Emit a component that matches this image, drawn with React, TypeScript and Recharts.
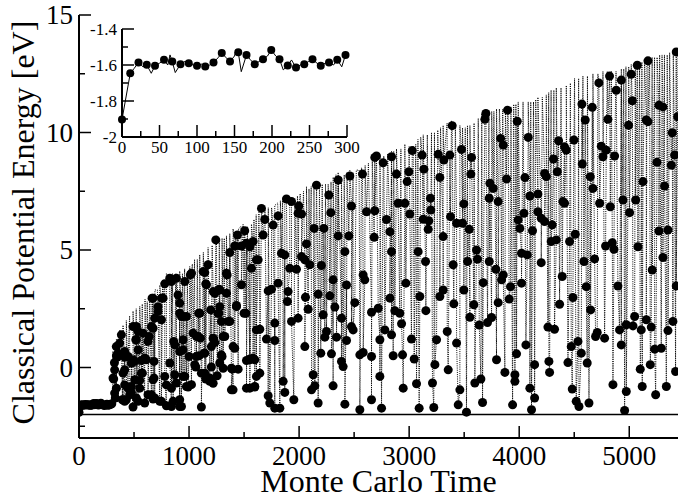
import React from "react";
import {
  ComposedChart,
  Line,
  Scatter,
  XAxis,
  YAxis,
  ReferenceLine,
  Label,
} from "recharts";

const FONT = '"Liberation Serif", "Times New Roman", Times, serif';

// first 300 MC steps (inset, also the flat start of the main plot)
const insetMarkTime = [
  0, 11, 22, 33, 44, 56, 67, 78, 89, 100, 111, 122, 133, 144, 155, 166, 177,
  188, 199, 210, 221, 232, 243, 254, 265, 276, 287, 298,
];
const insetMarkEnergy = [
  -1.903, -1.646, -1.586, -1.599, -1.604, -1.571, -1.581, -1.596, -1.59,
  -1.604, -1.609, -1.586, -1.534, -1.581, -1.529, -1.544, -1.596, -1.568,
  -1.516, -1.568, -1.603, -1.614, -1.596, -1.568, -1.604, -1.586, -1.571,
  -1.544,
];
const insetTraceTime = [
  0, 11, 16, 22, 28, 33, 39, 44, 50, 56, 61, 64, 67, 71, 78, 84, 89, 95, 100,
  106, 111, 117, 122, 128, 133, 139, 144, 150, 152, 155, 159, 166, 171, 177,
  183, 188, 194, 199, 205, 210, 215, 221, 226, 232, 238, 243, 249, 254, 260,
  265, 271, 276, 282, 287, 293, 298,
];
const insetTraceEnergy = [
  -1.903, -1.646, -1.62, -1.586, -1.61, -1.599, -1.646, -1.604, -1.59, -1.571,
  -1.6, -1.544, -1.581, -1.642, -1.596, -1.58, -1.59, -1.6, -1.604, -1.595,
  -1.609, -1.6, -1.586, -1.56, -1.534, -1.56, -1.581, -1.55, -1.516, -1.529,
  -1.637, -1.544, -1.57, -1.596, -1.58, -1.568, -1.55, -1.516, -1.55, -1.568,
  -1.627, -1.603, -1.572, -1.614, -1.6, -1.596, -1.58, -1.568, -1.59, -1.604,
  -1.59, -1.586, -1.6, -1.571, -1.61, -1.544,
];

// main plot markers, [time, energy]
const markersEarly: [number, number][] = [
  [1506, 5.82], [1440, 5.64], [1415, 5.17], [1476, 5.17], [1522, 5.29], [1243, 5.43],
  [1370, 4.89], [1173, 4.37], [1143, 4.04], [1012, 3.94], [961, 3.66], [825, 3.8],
  [779, 3.56], [664, 2.95], [749, 2.95], [900, 3.09], [719, 2.38], [749, 2.03],
  [915, 2.74], [946, 2.17], [976, 2.17], [1088, 2.31], [1152, 3.56], [1234, 3.16],
  [1273, 3.33], [1340, 3.16], [1346, 3.94], [1476, 3.52], [1431, 2.64], [1500, 2.31],
  [1370, 1.96], [1270, 2.31], [1294, 1.96], [1197, 2.45], [522, 1.74], [582, 1.46],
  [637, 1.32], [673, 1.67], [385, 1.39], [370, 1.04], [340, 0.5], [516, 1.18],
  [415, 0.44], [506, 0.26], [567, 0.3], [612, 0.33], [861, 1.11], [915, 0.68],
  [1037, 1.46], [1067, 1.32], [1103, 1.25], [1234, 1.06], [1225, 1.21], [1325, 1.32],
  [1415, 0.82], [1522, 0.3], [1446, -0.07], [1394, -0.07], [1300, 0.47], [1279, 0.19],
  [1203, 0.02], [1137, 0.61], [1091, 0.5], [1000, 0.47], [1061, 0.02], [870, -0.31],
  [825, 0.19], [682, 0.26], [315, -0.49], [415, -0.1], [576, -0.24], [552, -0.55],
  [673, -0.52], [946, -0.38], [1112, -0.24], [1152, -0.49], [1188, -0.59], [1255, -0.35],
  [1400, -0.95], [446, -0.88], [340, -0.88], [476, -1.06], [552, -0.88], [885, -0.66],
  [991, -0.83], [1022, -0.73], [915, -1.37], [794, -1.63], [840, -1.66], [749, -1.44],
  [658, -1.16], [673, -1.34], [491, -1.68], [537, -1.44], [597, -1.51], [394, -1.37],
  [430, -1.37], [1112, -1.68], [322, 0.2], [330, -1.3],
  [324, -0.1], [349, 0.44], [339, 0.89], [355, 0.61], [415, 0.68], [446, 0.47],
  [476, 0.19], [491, 0.33], [521, 1.18], [537, 0.75], [597, 0.4], [627, 1.11],
  [491, 1.74], [537, 1.53], [658, 1.74], [688, 2.1], [673, 2.95], [718, 2.59],
  [764, 2.95], [840, 3.66], [885, 3.8], [915, 2.31], [870, 0.97], [946, 1.18],
  [400, -0.24], [415, -0.74], [476, -0.81], [506, -0.52], [567, -0.24], [682, -0.45],
  [779, -0.38], [794, -0.74], [840, -0.88], [961, -0.38], [324, -1.09], [400, -1.37],
  [461, -1.16], [521, -1.3], [627, -1.16], [688, -1.3], [734, -1.44], [855, -1.44],
  [915, -1.66], [415, -1.44], [309, -0.45],
  [1582, 5.36], [1128, 4.08], [1022, 4.01], [1279, 3.3], [1219, 3.23], [1340, 4.01],
  [1612, 4.58], [1158, 3.52], [1097, 2.31], [931, 2.17], [1279, 2.59], [1264, 2.31],
  [1355, 1.96], [1431, 2.59], [1082, 1.32], [1219, 1.25], [1310, 1.32], [1203, 0.89],
  [1143, 0.61], [1067, 0.47], [946, 0.75], [1294, 0.54], [1400, 0.89], [1385, -0.03],
  [1597, 0.33], [1552, 0.33], [1052, 0.12], [1143, -0.24], [1188, -0.45], [1219, -0.67],
  [1310, -0.03], [976, -0.81], [1385, -0.95], [1522, -0.88], [1597, -0.81], [1612, -0.38],
  [931, -1.66],
];

const markersMid: [number, number][] = [
  [2703, 9.0], [2688, 8.94], [2764, 8.71], [2840, 8.97], [2576, 8.23], [2461, 8.15],
  [2355, 7.98], [2158, 7.76], [2270, 7.34], [1885, 7.17], [1931, 7.06], [1997, 6.87],
  [1658, 6.77], [1809, 6.45], [1688, 6.3], [1764, 6.06], [1991, 6.56], [2022, 6.53],
  [2288, 6.59], [2476, 6.87], [2613, 6.63], [2688, 6.67], [2794, 6.3], [2825, 5.78],
  [2137, 5.92], [2225, 5.92], [2355, 5.6], [2452, 5.6], [2682, 5.54], [1673, 5.64],
  [1552, 5.14], [1628, 4.58], [1840, 4.86], [1870, 4.79], [2067, 5.26], [2022, 4.72],
  [2052, 4.58], [2097, 4.37], [1915, 4.22], [1976, 4.18], [1567, 4.22], [2203, 4.34],
  [2416, 4.93], [2309, 3.73], [2431, 3.51], [2597, 3.73], [2582, 3.94], [2840, 4.93],
  [2825, 2.95], [2870, 2.42], [2719, 2.52], [2658, 2.35], [2506, 2.76], [2325, 2.57],
  [2385, 2.1], [2279, 3.05], [2219, 2.24], [2173, 3.12], [2058, 2.99], [2082, 2.48],
  [1900, 3.23], [1894, 2.81], [1809, 3.59], [1719, 3.26], [1749, 3.33], [1516, 2.31],
  [1612, 1.6], [1643, 1.63], [1703, 1.21], [1779, 1.15], [1779, 1.89], [1931, 1.96],
  [1991, 2.1], [2052, 0.89], [2234, 1.29], [2249, 1.53], [2340, 1.29], [2476, 1.74],
  [2491, 1.6], [2582, 0.64], [2552, 0.54], [2431, 1.15], [2840, 1.39], [2734, 1.18],
  [2779, 1.6], [2855, 0.5], [1552, 0.36], [1582, 0.4], [1643, -0.24], [1552, -0.88],
  [1597, -0.83], [1855, -0.59], [1870, -1.06], [1719, -1.2], [1734, -1.51], [1779, -1.73],
  [1825, -1.73], [1952, -1.37], [2128, -0.31], [2143, -0.78], [2113, -0.95], [2173, -1.51],
  [2197, 0.61], [2294, 0.58], [2309, -0.78], [2400, 0.04], [2385, 0.26], [2416, -1.56],
  [2552, -1.8], [2658, -1.37], [2749, -1.73], [2658, 0.47], [2734, -0.38],
];

const markersLate: [number, number][] = [
  [3697, 10.81], [3688, 10.56], [3894, 10.95], [3982, 10.48], [4082, 9.79], [3831, 9.75],
  [3855, 9.46], [3391, 10.29], [3476, 9.28], [3567, 8.94], [3370, 9.04], [3315, 8.83],
  [3264, 9.07], [3118, 9.04], [3028, 9.23], [2885, 8.23], [2997, 8.33], [2982, 7.91],
  [3134, 8.44], [3561, 8.23], [3279, 8.09], [3885, 8.02], [4052, 8.08], [3734, 7.84],
  [3764, 7.62], [3728, 7.2], [3809, 7.06], [4097, 7.3], [4043, 6.56], [3991, 6.28],
  [4006, 5.92], [4121, 5.82], [3497, 6.96], [3376, 6.42], [3431, 6.14], [3485, 6.14],
  [3546, 5.88], [3309, 5.57], [3128, 6.31], [3179, 6.24], [3173, 5.88], [3197, 6.7],
  [3194, 7.2], [2900, 6.99], [2961, 6.99], [3006, 6.53], [3082, 4.93], [3149, 4.51],
  [3400, 4.37], [3531, 4.51], [3612, 5.0], [3621, 4.61], [3728, 4.51], [3788, 4.18],
  [3855, 3.94], [3840, 3.73], [3921, 3.44], [3909, 2.91], [4021, 4.86], [4073, 4.79],
  [4021, 3.59], [3673, 3.61], [3809, 2.76], [3749, 2.13], [3712, 1.91], [3637, 1.81],
  [3552, 2.14], [3588, 2.67], [3497, 3.3], [3406, 2.71], [3309, 3.3], [3279, 3.02],
  [2970, 3.59], [3097, 3.02], [3152, 2.42], [2915, 2.31], [2931, 1.86], [3021, 1.21],
  [3346, 1.53], [3249, 1.18], [3431, 1.04], [2940, 0.54], [3046, 0.36], [3234, 0.12],
  [3355, -0.1], [3794, 0.33], [3870, -0.21], [3976, 0.58], [4061, 0.96], [2946, -0.88],
  [3067, -0.69], [3212, -0.66], [3461, -0.95], [3597, -0.66], [3652, -0.49], [3961, -0.31],
  [3961, -0.59], [4097, -0.88], [3091, -1.73], [3224, -1.7], [3446, -1.59], [3521, -1.9],
  [3667, -1.49], [3940, -1.59], [4112, -1.8],
];

const markersEnd: [number, number][] = [
  [5427, 13.43], [5170, 13.05], [5073, 12.86], [5018, 12.48], [4928, 12.23], [4821, 12.4],
  [4724, 12.11], [4882, 11.8], [5028, 11.35], [5270, 11.16], [5306, 11.09], [5155, 10.53],
  [5170, 10.46], [4664, 11.07], [4570, 11.21], [4600, 10.53], [4806, 10.56], [4994, 10.31],
  [5391, 9.99], [5440, 10.67], [4497, 9.68], [4358, 9.65], [4412, 9.39], [4428, 9.25],
  [4746, 9.42], [4791, 9.25], [4761, 8.97], [4867, 9.0], [4573, 8.66], [4312, 8.87],
  [5412, 9.04], [5382, 8.61], [5252, 8.73], [4231, 8.26], [4246, 8.12], [4346, 8.33],
  [4646, 8.12], [4670, 7.62], [5321, 7.72], [5125, 7.91], [4170, 7.38], [4397, 7.06],
  [4412, 6.99], [4731, 6.99], [4828, 6.84], [4943, 7.13], [5058, 7.13], [5003, 6.59],
  [4170, 6.63], [4200, 6.35], [4231, 6.21], [4300, 6.07], [4291, 5.36], [4337, 5.43],
  [4458, 5.36], [4509, 5.67], [4785, 5.17], [4846, 5.31], [4861, 5.03], [5079, 5.14],
  [5270, 5.81], [5352, 5.85], [4200, 4.46], [4391, 3.87], [4588, 4.51], [4685, 4.62],
  [4897, 3.47], [4609, 3.44], [4488, 2.98], [4367, 2.69], [4649, 2.45], [5209, 4.15],
  [5306, 4.68], [5427, 3.47], [5049, 2.17], [5155, 2.03], [4973, 1.82], [5034, 1.77],
  [5200, 1.72], [5397, 1.96], [4261, 1.72], [4321, 1.63], [4709, 1.49], [4776, 1.25],
  [4912, 1.6], [5109, 1.6], [4694, 1.32], [4473, 0.89], [4534, 1.11], [4564, 0.61],
  [4928, 0.96], [5231, 0.78], [5291, 0.82], [5352, 1.57], [4270, 0.26], [4443, 0.21],
  [4618, 0.19], [4140, 0.12], [4276, -0.21], [5191, 0.12], [5100, -0.07], [5421, -0.17],
  [4482, -0.92], [4518, -1.44], [4543, -1.66], [4634, -1.51], [4852, -0.73], [4973, -1.02],
  [5118, -0.81], [5240, -1.16], [5337, -0.81], [4958, -1.83], [4140, -1.3],
];

// tops of the dotted trace between markers
const tracePeaks: [number, number][] = [
  [309, 0.7], [340, 1.2], [370, 1.6], [400, 1.8], [430, 2.0], [460, 2.2], [491, 2.4],
  [520, 2.5], [552, 2.6], [575, 2.7], [600, 2.9], [620, 2.8], [643, 3.0], [665, 3.1],
  [690, 3.3], [712, 3.3], [734, 3.5], [760, 3.7], [794, 4.0], [820, 3.8], [850, 4.0],
  [880, 4.0], [915, 4.1], [940, 4.0], [960, 4.2], [985, 4.1], [1006, 4.3], [1030, 4.4],
  [1050, 4.6], [1075, 4.6], [1097, 4.8], [1130, 4.9], [1173, 5.1], [1210, 5.2],
  [1249, 5.6], [1275, 5.4], [1300, 5.5], [1320, 5.5], [1340, 5.6], [1370, 5.7],
  [1400, 5.9], [1425, 5.8], [1450, 5.9], [1470, 6.0], [1491, 6.1], [1530, 6.0],
  [1567, 6.1], [1590, 6.3], [1610, 6.5], [1635, 6.6], [1658, 6.9], [1690, 6.7],
  [1720, 6.8], [1750, 6.8], [1779, 6.9], [1805, 7.0], [1830, 7.1], [1850, 7.1],
  [1870, 7.2], [1915, 7.0], [1961, 7.2], [1985, 7.3], [2010, 7.4], [2040, 7.5],
  [2067, 7.7], [2090, 7.6], [2110, 7.7], [2135, 7.8], [2158, 7.9], [2185, 7.7],
  [2210, 7.8], [2240, 7.8], [2264, 7.8], [2290, 7.9], [2310, 8.1], [2335, 8.2],
  [2355, 8.3], [2385, 8.1], [2410, 8.2], [2435, 8.3], [2461, 8.4], [2490, 8.3],
  [2520, 8.4], [2545, 8.4], [2567, 8.5], [2600, 8.6], [2630, 8.7], [2665, 8.8],
  [2703, 9.1], [2735, 9.0], [2770, 9.0], [2805, 9.1], [2840, 9.2], [2860, 9.2],
  [2885, 9.3], [2925, 9.3], [2961, 9.5], [3000, 9.4], [3037, 9.4], [3060, 9.5],
  [3080, 9.7], [3105, 9.8], [3128, 9.9], [3165, 9.9], [3203, 10.0], [3230, 10.0],
  [3260, 10.1], [3285, 10.2], [3309, 10.3], [3345, 10.4], [3385, 10.5], [3420, 10.4],
  [3461, 10.3], [3485, 10.2], [3510, 10.2], [3530, 10.3], [3552, 10.3], [3590, 10.4],
  [3628, 10.6], [3660, 10.8], [3697, 11.0], [3725, 10.9], [3750, 10.9], [3770, 10.9],
  [3794, 11.0], [3820, 11.0], [3850, 11.0], [3875, 11.0], [3900, 11.1], [3925, 11.1],
  [3950, 11.2], [3970, 11.2], [3991, 11.3], [4035, 11.3], [4082, 11.3], [4105, 11.3],
  [4130, 11.3], [4150, 11.4], [4170, 11.5], [4210, 11.5], [4246, 11.6], [4268, 11.7],
  [4290, 11.8], [4315, 11.8], [4337, 11.9], [4380, 11.9], [4428, 12.0], [4465, 12.1],
  [4503, 12.3], [4540, 12.3], [4579, 12.4], [4620, 12.4], [4670, 12.5], [4715, 12.5],
  [4761, 12.6], [4800, 12.6], [4837, 12.6], [4880, 12.6], [4928, 12.7], [4950, 12.7],
  [4970, 12.8], [4995, 12.8], [5018, 12.9], [5055, 12.9], [5094, 13.0], [5115, 13.0],
  [5140, 13.1], [5160, 13.1], [5185, 13.2], [5208, 13.2], [5230, 13.2], [5253, 13.2],
  [5276, 13.3], [5298, 13.3], [5320, 13.3], [5345, 13.3], [5367, 13.4], [5400, 13.4],
  [5443, 13.5],
];

const mainTicksX = [0, 500, 1000, 1500, 2000, 2500, 3000, 3500, 4000, 4500, 5000];
const mainTicksY = [-2.5, 0, 2.5, 5, 7.5, 10, 12.5, 15];
const insetTicksX = [0, 25, 50, 75, 100, 125, 150, 175, 200, 225, 250, 275, 300];
const insetTicksY = [-2, -1.9, -1.8, -1.7, -1.6, -1.5, -1.4];

const byTime = (a: { t: number }, b: { t: number }) => a.t - b.t;

const startMarks = insetMarkTime.map((t, i) => ({ t, e: insetMarkEnergy[i] }));
const mainMarks = [...startMarks]
  .concat(
    [...markersEarly, ...markersMid, ...markersLate, ...markersEnd].map(([t, e]) => ({ t, e }))
  )
  .sort(byTime);
const mainTrace = [...mainMarks, ...tracePeaks.map(([t, e]) => ({ t, e }))].sort(byTime);
const insetTrace = insetTraceTime.map((t, i) => ({ t, e: insetTraceEnergy[i] }));

type Side = "bottom" | "top" | "left" | "right";

function makeTick(
  side: Side,
  isMajor: (v: number) => boolean,
  majorLen: number,
  minorLen: number,
  fontSize: number,
  labelGap: number,
  fmt?: (v: number) => string
) {
  return (props: any) => {
    const { x, y, payload } = props;
    const v = payload.value;
    const major = isMajor(v);
    const len = major ? majorLen : minorLen;
    let line;
    if (side === "bottom") line = <line x1={x} x2={x} y1={y} y2={y - len} />;
    else if (side === "top") line = <line x1={x} x2={x} y1={y} y2={y + len} />;
    else if (side === "left") line = <line x1={x} x2={x + len} y1={y} y2={y} />;
    else line = <line x1={x} x2={x - len} y1={y} y2={y} />;
    let text = null;
    if (fmt && major) {
      if (side === "bottom") {
        text = (
          <text x={x} y={y + labelGap} textAnchor="middle" fontSize={fontSize} fontFamily={FONT} fill="#000">
            {fmt(v)}
          </text>
        );
      } else if (side === "left") {
        text = (
          <text x={x - labelGap} y={y + fontSize * 0.34} textAnchor="end" fontSize={fontSize} fontFamily={FONT} fill="#000">
            {fmt(v)}
          </text>
        );
      }
    }
    return (
      <g stroke="#000" strokeWidth={1.5}>
        {line}
        <g stroke="none">{text}</g>
      </g>
    );
  };
}

const dot = (r: number) => (p: any) => <circle cx={p.cx} cy={p.cy} r={r} fill="#000" />;

const MAIN_X_DOMAIN: [number, number] = [0, 5443];

export default function App() {
  return (
    <div style={{ position: "absolute", left: 0, top: 0, width: 678, height: 497, background: "#fff", overflow: "hidden" }}>
      <div style={{ position: "absolute", left: 0, top: 0 }}>
        <ComposedChart width={678} height={497} margin={{ top: 15, right: 0, bottom: 0, left: 0 }}>
          <XAxis
            dataKey="t"
            type="number"
            domain={MAIN_X_DOMAIN}
            allowDataOverflow
            ticks={mainTicksX}
            interval={0}
            height={59}
            tickSize={0}
            tickMargin={0}
            axisLine={{ stroke: "#000", strokeWidth: 2 }}
            tick={makeTick("bottom", (v) => v % 1000 === 0, 12, 6, 27, 27, (v) => String(v))}
          >
            <Label
              content={(p: any) => {
                const vb = p.viewBox;
                return (
                  <text x={vb.x + vb.width / 2} y={vb.y + 54} textAnchor="middle" fontSize={32} fontFamily={FONT} fill="#000">
                    Monte Carlo Time
                  </text>
                );
              }}
            />
          </XAxis>
          <XAxis
            xAxisId="top"
            orientation="top"
            dataKey="t"
            type="number"
            domain={MAIN_X_DOMAIN}
            allowDataOverflow
            ticks={mainTicksX}
            interval={0}
            height={0}
            tickSize={0}
            tickMargin={0}
            axisLine={{ stroke: "#000", strokeWidth: 2 }}
            tick={makeTick("top", (v) => v % 1000 === 0, 12, 6, 27, 0)}
          />
          <YAxis
            type="number"
            domain={[-3, 15]}
            allowDataOverflow
            ticks={mainTicksY}
            interval={0}
            width={79}
            tickSize={0}
            tickMargin={0}
            axisLine={{ stroke: "#000", strokeWidth: 2 }}
            tick={makeTick("left", (v) => v % 5 === 0, 12, 6, 27, 6, (v) => String(v))}
          >
            <Label
              content={(p: any) => {
                const vb = p.viewBox;
                const cx = vb.x + 34;
                const cy = vb.y + vb.height / 2 - 4;
                return (
                  <text
                    x={cx}
                    y={cy}
                    transform={`rotate(-90 ${cx} ${cy})`}
                    textAnchor="middle"
                    fontSize={32}
                    fontFamily={FONT}
                    fill="#000"
                  >
                    Classical Potential Energy [eV]
                  </text>
                );
              }}
            />
          </YAxis>
          <ReferenceLine y={-2} stroke="#000" strokeWidth={1.5} />
          <Line
            data={mainTrace}
            dataKey="e"
            type="linear"
            stroke="#000"
            strokeWidth={1}
            strokeDasharray="1 1.2"
            dot={false}
            activeDot={false}
            isAnimationActive={false}
          />
          <Scatter data={mainMarks} dataKey="e" shape={dot(4.5)} isAnimationActive={false} />
        </ComposedChart>
      </div>

      <div style={{ position: "absolute", left: 80, top: 20 }}>
        <ComposedChart width={280} height={140} margin={{ top: 9, right: 13, bottom: 0, left: 0 }}>
          <XAxis
            dataKey="t"
            type="number"
            domain={[0, 300]}
            ticks={insetTicksX}
            interval={0}
            height={23}
            tickSize={0}
            tickMargin={0}
            axisLine={{ stroke: "#000", strokeWidth: 2 }}
            tick={makeTick("bottom", (v) => v % 50 === 0, 12, 6, 17, 16, (v) => String(v))}
          />
          <XAxis
            xAxisId="top"
            orientation="top"
            dataKey="t"
            type="number"
            domain={[0, 300]}
            ticks={insetTicksX}
            interval={0}
            height={0}
            tickSize={0}
            tickMargin={0}
            axisLine={{ stroke: "#000", strokeWidth: 2 }}
            tick={makeTick("top", (v) => v % 50 === 0, 12, 6, 17, 0)}
          />
          <YAxis
            type="number"
            domain={[-2, -1.4]}
            ticks={insetTicksY}
            interval={0}
            width={42}
            tickSize={0}
            tickMargin={0}
            axisLine={{ stroke: "#000", strokeWidth: 2 }}
            tick={makeTick("left", (v) => Math.round(v * 10) % 2 === 0, 12, 6, 17, 5, (v) => String(v))}
          />
          <YAxis
            yAxisId="r"
            orientation="right"
            type="number"
            domain={[-2, -1.4]}
            ticks={insetTicksY}
            interval={0}
            width={0}
            tickSize={0}
            tickMargin={0}
            axisLine={{ stroke: "#000", strokeWidth: 2 }}
            tick={makeTick("right", (v) => Math.round(v * 10) % 2 === 0, 12, 6, 17, 0)}
          />
          <Line
            data={insetTrace}
            dataKey="e"
            type="linear"
            stroke="#000"
            strokeWidth={1}
            dot={false}
            activeDot={false}
            isAnimationActive={false}
          />
          <Scatter data={startMarks} dataKey="e" shape={dot(4)} isAnimationActive={false} />
        </ComposedChart>
      </div>
    </div>
  );
}
